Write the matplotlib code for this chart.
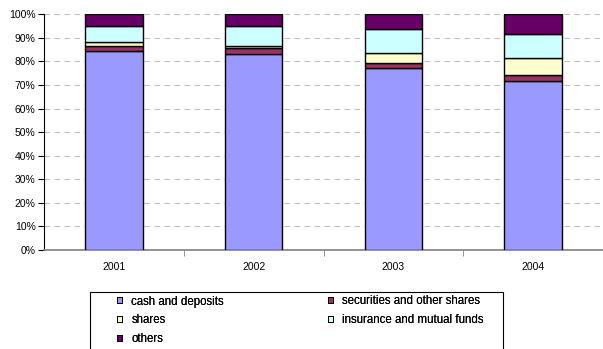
import numpy as np
import matplotlib
matplotlib.use("Agg")
import matplotlib.pyplot as plt
from matplotlib.patches import Patch, Rectangle

plt.rcParams["font.family"] = ["Liberation Sans", "DejaVu Sans"]
plt.rcParams["font.size"] = 7.5

years = ["2001", "2002", "2003", "2004"]
cash = [84.4, 83.3, 77.1, 71.7]
securities = [2.2, 2.3, 2.4, 2.5]
shares = [1.7, 1.0, 4.0, 7.1]
insurance = [6.8, 8.5, 10.2, 10.2]
others = [4.9, 4.9, 6.3, 8.5]

series = [
    ("cash and deposits", cash, "#9999FF"),
    ("securities and other shares", securities, "#993366"),
    ("shares", shares, "#FFFFCC"),
    ("insurance and mutual funds", insurance, "#CCFFFF"),
    ("others", others, "#660066"),
]

W, H = 603, 349
fig = plt.figure(figsize=(W / 100, H / 100), dpi=100)
ax = fig.add_axes([44 / W, 1 - 250 / H, 1 - 44 / W, (250 - 14.3) / H])

x = np.arange(len(years))
total = np.sum([s[1] for s in series], axis=0)
bottom = np.zeros(len(years))
for name, vals, col in series:
    pct = np.array(vals) / total * 100
    ax.bar(x, pct, 0.41, bottom=bottom, color=col, edgecolor="black",
           linewidth=1.0, zorder=3)
    bottom += pct

ax.set_xlim(-0.5, len(years) - 0.5)
ax.set_ylim(0, 100)
ax.set_yticks(np.arange(0, 101, 10))
ax.set_yticklabels([f"{v}%" for v in range(0, 101, 10)])
ax.yaxis.grid(True, linestyle=(0, (5, 4)), color="#c0c0c0", linewidth=0.8, zorder=0)

ax.set_xticks(x)
ax.set_xticklabels(years)
ax.set_xticks(np.arange(0.5, len(years) - 1, 1), minor=True)
ax.tick_params(axis="x", which="major", length=0, pad=9)
ax.tick_params(axis="x", which="minor", length=4, direction="out", color="#808080")
ax.tick_params(axis="y", length=4, direction="out", pad=2)

for side in ["top", "right"]:
    ax.spines[side].set_visible(False)
ax.spines["left"].set_color("black")
ax.spines["bottom"].set_color("#808080")
ax.spines["bottom"].set_linewidth(1.2)

# legend: box runs off the bottom of the picture, two columns
fig.add_artist(Rectangle((90 / W, 1 - 370 / H), 413 / W, 78 / H,
                         transform=fig.transFigure, facecolor="none",
                         edgecolor="black", linewidth=0.8, clip_on=False))

handles = [Patch(facecolor=c, edgecolor="black", linewidth=0.7) for _, _, c in series]
labels = [n for n, _, _ in series]
leg_kw = dict(loc="upper left", frameon=False, handlelength=0.45, handleheight=0.45,
              handletextpad=0.85, labelspacing=0.6, borderpad=0, borderaxespad=0,
              fontsize=8.3)
cols = [([0, 2, 4], 116.5), ([1, 3], 327.5)]
for idx, left in cols:
    leg = fig.legend([handles[i] for i in idx], [labels[i] for i in idx],
                     bbox_to_anchor=(left / W, 1 - 295.5 / H), **leg_kw)
    fig.add_artist(leg)

fig.savefig("out.png", dpi=100)
